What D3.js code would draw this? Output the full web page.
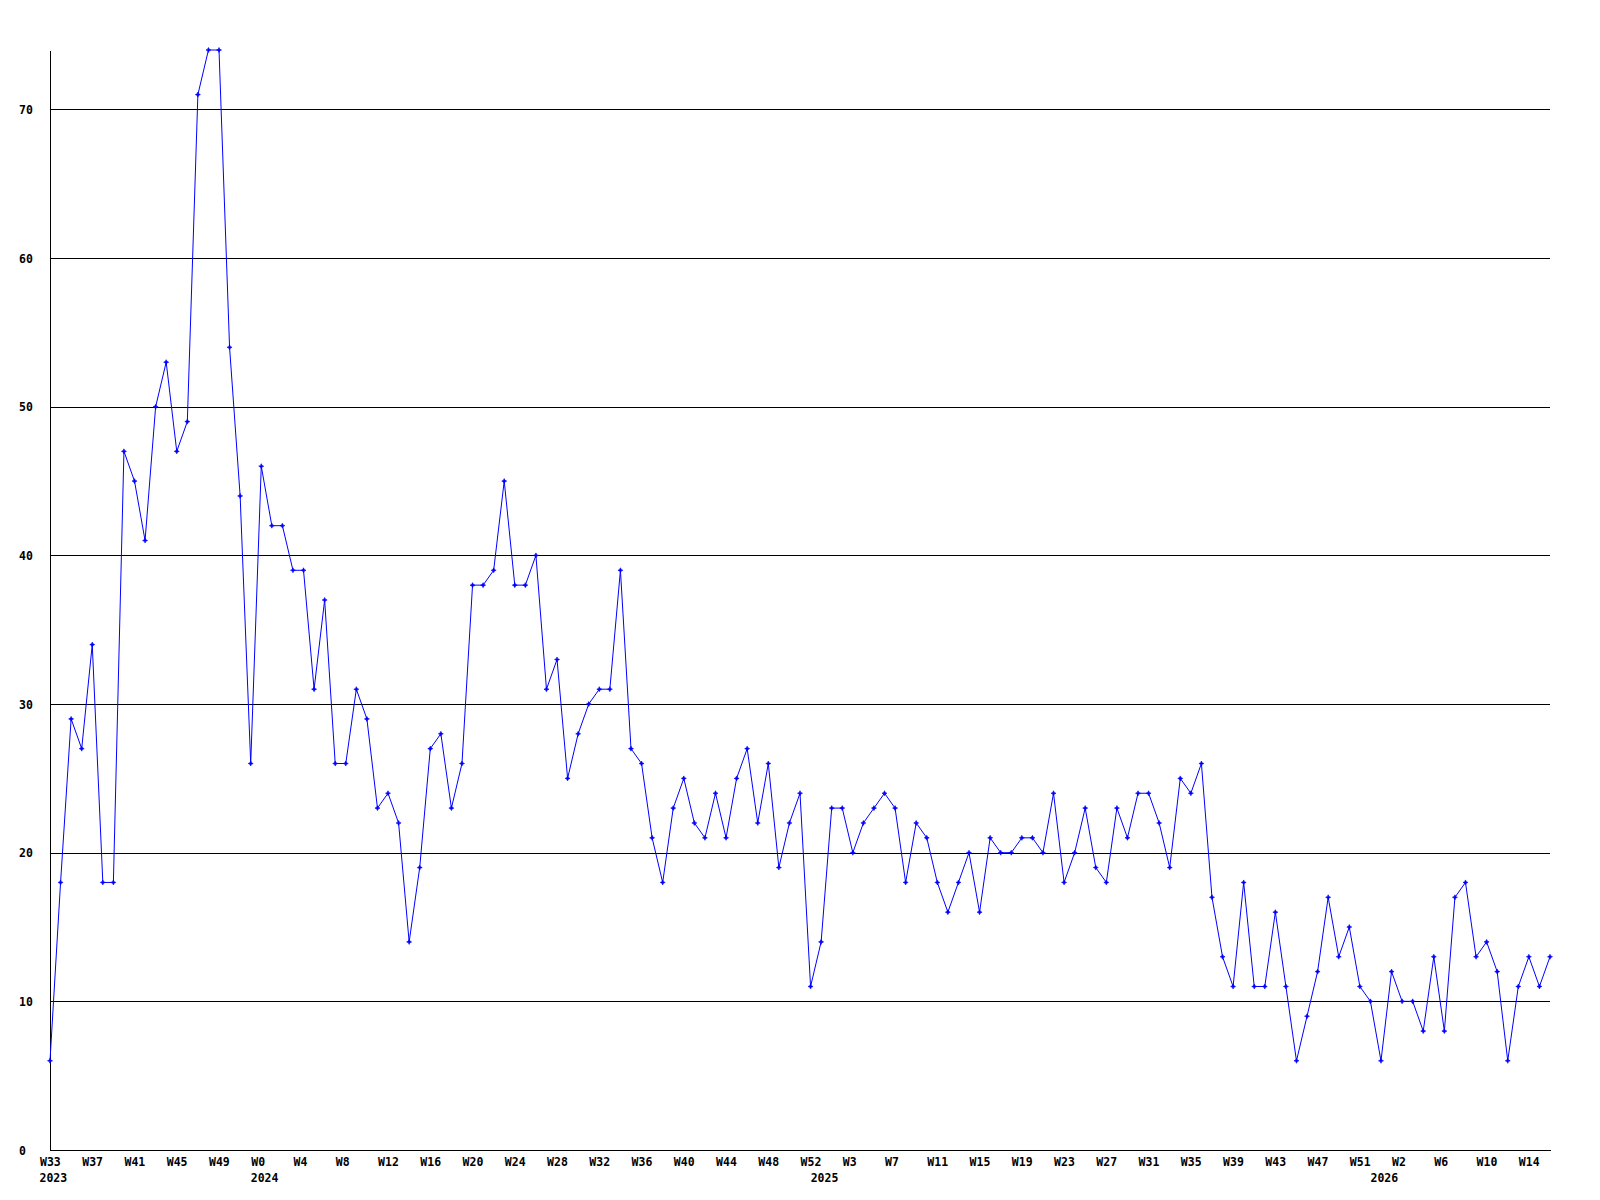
<!DOCTYPE html>
<html>
<head>
<meta charset="utf-8">
<script src="https://cdn.jsdelivr.net/npm/d3@7"></script>
<style>
  body { margin: 0; background: #fff; }
  svg text { font-family: "DejaVu Sans Mono", monospace; font-weight: bold; font-size: 11.5px; fill: #000; }
</style>
</head>
<body>
<div id="chart"></div>
<script>
// one entry per week, year-week
const categories = [
  "2023-W33","2023-W34","2023-W35","2023-W36","2023-W37","2023-W38","2023-W39","2023-W40","2023-W41","2023-W42",
  "2023-W43","2023-W44","2023-W45","2023-W46","2023-W47","2023-W48","2023-W49","2023-W50","2023-W51","2023-W52",
  "2024-W0","2024-W1","2024-W2","2024-W3","2024-W4","2024-W5","2024-W6","2024-W7","2024-W8","2024-W9",
  "2024-W10","2024-W11","2024-W12","2024-W13","2024-W14","2024-W15","2024-W16","2024-W17","2024-W18","2024-W19",
  "2024-W20","2024-W21","2024-W22","2024-W23","2024-W24","2024-W25","2024-W26","2024-W27","2024-W28","2024-W29",
  "2024-W30","2024-W31","2024-W32","2024-W33","2024-W34","2024-W35","2024-W36","2024-W37","2024-W38","2024-W39",
  "2024-W40","2024-W41","2024-W42","2024-W43","2024-W44","2024-W45","2024-W46","2024-W47","2024-W48","2024-W49",
  "2024-W50","2024-W51","2024-W52",
  "2025-W0","2025-W1","2025-W2","2025-W3","2025-W4","2025-W5","2025-W6","2025-W7","2025-W8","2025-W9",
  "2025-W10","2025-W11","2025-W12","2025-W13","2025-W14","2025-W15","2025-W16","2025-W17","2025-W18","2025-W19",
  "2025-W20","2025-W21","2025-W22","2025-W23","2025-W24","2025-W25","2025-W26","2025-W27","2025-W28","2025-W29",
  "2025-W30","2025-W31","2025-W32","2025-W33","2025-W34","2025-W35","2025-W36","2025-W37","2025-W38","2025-W39",
  "2025-W40","2025-W41","2025-W42","2025-W43","2025-W44","2025-W45","2025-W46","2025-W47","2025-W48","2025-W49",
  "2025-W50","2025-W51","2025-W52",
  "2026-W0","2026-W1","2026-W2","2026-W3","2026-W4","2026-W5","2026-W6","2026-W7","2026-W8","2026-W9",
  "2026-W10","2026-W11","2026-W12","2026-W13","2026-W14","2026-W15","2026-W16"
];

const values = [
  6, 18, 29, 27, 34, 18, 18, 47, 45, 41,
  50, 53, 47, 49, 71, 74, 74, 54, 44, 26,
  46, 42, 42, 39, 39, 31, 37, 26, 26, 31,
  29, 23, 24, 22, 14, 19, 27, 28, 23, 26,
  38, 38, 39, 45, 38, 38, 40, 31, 33, 25,
  28, 30, 31, 31, 39, 27, 26, 21, 18, 23,
  25, 22, 21, 24, 21, 25, 27, 22, 26, 19,
  22, 24, 11,
  14, 23, 23, 20, 22, 23, 24, 23, 18, 22,
  21, 18, 16, 18, 20, 16, 21, 20, 20, 21,
  21, 20, 24, 18, 20, 23, 19, 18, 23, 21,
  24, 24, 22, 19, 25, 24, 26, 17, 13, 11,
  18, 11, 11, 16, 11, 6, 9, 12, 17, 13,
  15, 11, 10,
  6, 12, 10, 10, 8, 13, 8, 17, 18, 13,
  14, 12, 6, 11, 13, 11, 13
];

const weekTicks = [
  "2023-W33","2023-W37","2023-W41","2023-W45","2023-W49",
  "2024-W0","2024-W4","2024-W8","2024-W12","2024-W16","2024-W20","2024-W24","2024-W28",
  "2024-W32","2024-W36","2024-W40","2024-W44","2024-W48","2024-W52",
  "2025-W3","2025-W7","2025-W11","2025-W15","2025-W19","2025-W23","2025-W27","2025-W31",
  "2025-W35","2025-W39","2025-W43","2025-W47","2025-W51",
  "2026-W2","2026-W6","2026-W10","2026-W14"
];
const yearTicks = ["2023-W33", "2024-W0", "2025-W0", "2026-W0"];
const yTicks = [0, 10, 20, 30, 40, 50, 60, 70];

const width = 1600, height = 1200;
const margin = {left: 50, right: 1550, top: 50, bottom: 1150};

const svg = d3.select("#chart").append("svg")
    .attr("width", width)
    .attr("height", height);

const x = d3.scalePoint().domain(categories).range([margin.left, margin.right]);
const y = d3.scaleLinear().domain([0, 74]).range([margin.bottom, margin.top]);

// horizontal grid + y labels
const yAxis = svg.append("g")
    .attr("transform", `translate(${margin.left},0)`)
    .call(d3.axisLeft(y).tickValues(yTicks).tickSize(-(margin.right - margin.left)).tickSizeOuter(0).tickFormat(d3.format("d")));
yAxis.selectAll(".tick line").attr("stroke", "#000").attr("shape-rendering", "crispEdges");
yAxis.select(".domain").attr("stroke", "#000").attr("shape-rendering", "crispEdges");
yAxis.selectAll(".tick text")
    .attr("x", -31)
    .attr("dy", "0.35em")
    .attr("text-anchor", "start");

// x axis: week labels
const xAxis = svg.append("g")
    .attr("transform", `translate(0,${margin.bottom})`)
    .call(d3.axisBottom(x).tickValues(weekTicks).tickSize(0).tickFormat(d => d.split("-")[1]));
xAxis.select(".domain").attr("stroke", "#000").attr("shape-rendering", "crispEdges");
xAxis.selectAll(".tick text")
    .attr("x", -10.5)
    .attr("y", 12)
    .attr("dy", "0.35em")
    .attr("text-anchor", "start");

// year labels under first week of each year
svg.append("g").selectAll("text")
    .data(yearTicks).enter()
    .append("text")
        .attr("x", d => x(d) - 10.5)
        .attr("y", margin.bottom + 27.5)
        .attr("dy", "0.35em")
        .text(d => d.split("-")[0]);

const line = d3.line()
    .x((d, i) => x(categories[i]))
    .y(d => y(d));

svg.append("path")
    .datum(values)
    .attr("d", line)
    .attr("fill", "none")
    .attr("stroke", "#0000ff")
    .attr("stroke-width", 1);

svg.append("g").selectAll("path")
    .data(values).enter()
    .append("path")
        .attr("transform", (d, i) => `translate(${x(categories[i])},${y(d)})`)
        .attr("d", "M0,-2.5L0.8,-0.8L2.5,0L0.8,0.8L0,2.5L-0.8,0.8L-2.5,0L-0.8,-0.8Z")
        .attr("fill", "#0000ff")
        .attr("stroke", "#0000ff")
        .attr("stroke-width", 0.6);
</script>
</body>
</html>
